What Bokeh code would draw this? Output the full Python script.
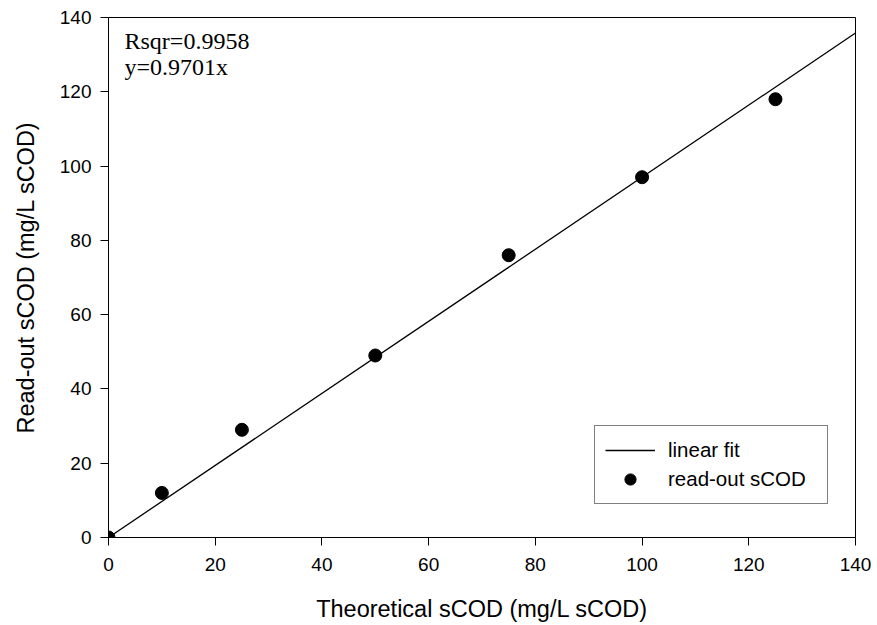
from bokeh.plotting import figure
from bokeh.models import Range1d, Legend, LegendItem, Label, FixedTicker
from bokeh.embed import file_html
from bokeh.resources import INLINE

# Data
theoretical = [0, 10, 25, 50, 75, 100, 125]
readout = [0, 12, 29, 49, 76, 97, 118]
slope = 0.9701
rsqr = 0.9958
fit_x = [0, 140]
fit_y = [slope * v for v in fit_x]
ticks = [0, 20, 40, 60, 80, 100, 120, 140]

p = figure(width=877, height=625, output_backend="svg", toolbar_location=None,
           x_range=Range1d(0, 140), y_range=Range1d(0, 140),
           min_border_left=108, min_border_right=22, min_border_top=17, min_border_bottom=88)
p.xgrid.visible = False
p.ygrid.visible = False
p.outline_line_color = "black"
p.outline_line_width = 1
p.outline_line_alpha = 1
p.background_fill_color = "white"
p.border_fill_color = "white"

for ax in (p.xaxis[0], p.yaxis[0]):
    ax.ticker = FixedTicker(ticks=ticks)
    ax.minor_tick_line_color = None
    ax.major_tick_in = 0
    ax.major_tick_out = 8
    ax.major_tick_line_color = "black"
    ax.axis_line_color = "black"
    ax.major_label_text_font = "Liberation Sans"
    ax.major_label_text_font_size = "19px"
    ax.major_label_text_color = "black"
    ax.axis_label_text_font = "Liberation Sans"
    ax.axis_label_text_font_size = "23.5px"
    ax.axis_label_text_font_style = "normal"
    ax.axis_label_text_color = "black"

p.xaxis.axis_label = "Theoretical sCOD (mg/L sCOD)"
p.yaxis.axis_label = "Read-out sCOD (mg/L sCOD)"
p.xaxis.major_label_standoff = 12
p.yaxis.major_label_standoff = 9
p.xaxis.axis_label_standoff = 22
p.yaxis.axis_label_standoff = 18

fit = p.line(fit_x, fit_y, line_color="black", line_width=1.3)
pts = p.scatter(theoretical, readout, marker="circle", size=13,
                fill_color="black", line_color="black")

legend = Legend(items=[LegendItem(label="linear fit", renderers=[fit]),
                       LegendItem(label="read-out sCOD", renderers=[pts])],
                location=(486, 33))
legend.border_line_color = "black"
legend.border_line_width = 1
legend.background_fill_color = "white"
legend.background_fill_alpha = 1
legend.label_text_font = "Liberation Sans"
legend.label_text_font_size = "20.5px"
legend.label_text_color = "black"
legend.glyph_width = 50
legend.glyph_height = 28
legend.label_height = 28
legend.label_width = 149
legend.label_standoff = 13
legend.padding = 10
legend.spacing = 1
legend.margin = 0
p.add_layout(legend, "center")

for txt, yy in ((f"Rsqr={rsqr}", 133.8), (f"y={slope}x", 126.7)):
    p.add_layout(Label(x=3, y=yy, text=txt, text_font="Liberation Serif",
                       text_font_size="24px", text_color="black",
                       text_baseline="alphabetic"))

open("out.html", "w").write(file_html(p, INLINE))
